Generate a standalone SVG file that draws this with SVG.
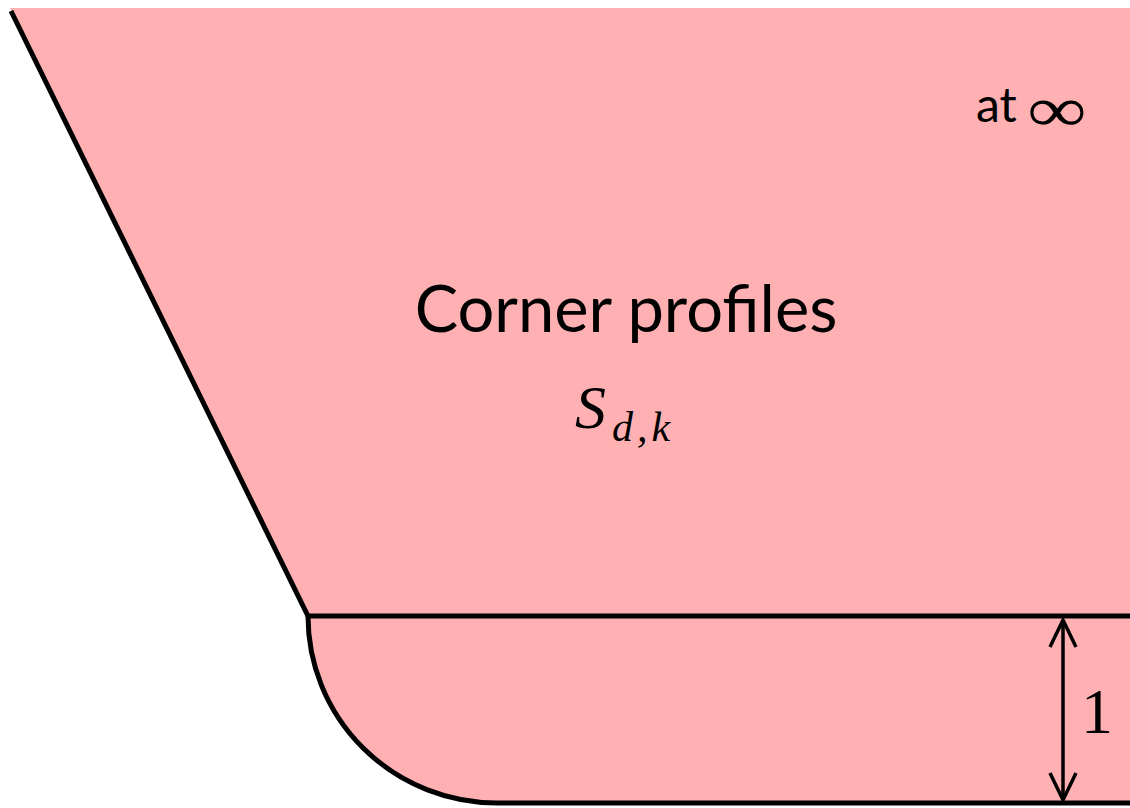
<svg xmlns="http://www.w3.org/2000/svg" width="1130" height="808" viewBox="0 0 1130 808">
<style>
.edge{fill:none;stroke:#000;stroke-width:5;stroke-linecap:butt}
.sans{font-family:Lato,"Open Sans",sans-serif;fill:#000}
.serif{font-family:"Liberation Serif","DejaVu Serif",serif;fill:#000}
</style>
<g id="region">
<path d="M10,8 L1130,8 L1130,803 L497,803 A189,187 0 0 1 308,616 Z" fill="#ffb0b2"/>
</g>
<g id="boundary">
<path class="edge" d="M11,11 L308,616 L1130,616"/>
<path class="edge" d="M308,616 A189,187 0 0 0 497,803 L1130,803"/>
</g>
<g id="connectors">
<line x1="1063" y1="623" x2="1063" y2="797" stroke="#000" stroke-width="3.5"/>
<path d="M1050,647 L1063,620 L1076,647" fill="none" stroke="#000" stroke-width="3.5"/>
<path d="M1050,773 L1063,800 L1076,773" fill="none" stroke="#000" stroke-width="3.5"/>
</g>
<g id="labels">
<text class="serif" x="1097" y="733" font-size="64" text-anchor="middle">1</text>
<text class="sans" x="976" y="122" font-size="48">at</text>
<text class="serif" transform="translate(1057,131) scale(1.3,1)" x="0" y="0" font-size="64" text-anchor="middle">∞</text>
<text class="sans" x="626" y="332" font-size="65" text-anchor="middle">Corner profiles</text>
<text class="serif" x="575" y="428" font-size="62" font-style="italic">S</text>
<text class="serif" x="612" y="441" font-size="42" font-style="italic" letter-spacing="4">d,k</text>
</g>
</svg>
